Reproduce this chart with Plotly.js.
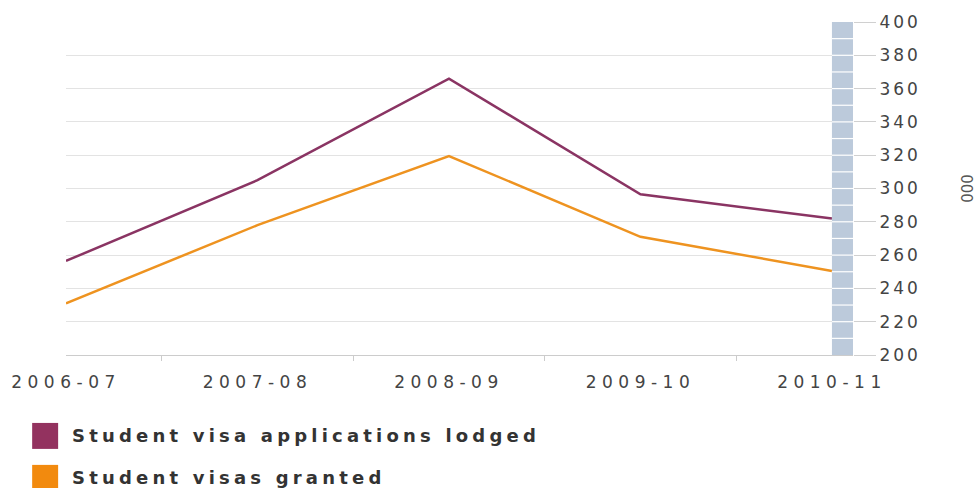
<!DOCTYPE html>
<html>
<head>
<meta charset="utf-8">
<script src="https://cdn.plot.ly/plotly-3.0.1.min.js"></script>
<style>
html,body{margin:0;padding:0;background:#fff;}
#chart{width:977px;height:488px;}
.xtick text{letter-spacing:5.5px;}
.ytick text{letter-spacing:3px;}
.annotation-text{letter-spacing:4.2px;}
</style>
</head>
<body>
<div id="chart"></div>
<script>
const categories = ["2006-07", "2007-08", "2008-09", "2009-10", "2010-11"];
const lodged = [256.5, 305, 366, 296.5, 282];
const granted = [231, 278, 319.5, 271, 250.5];
const seriesNames = ["Student visa applications lodged", "Student visas granted"];
const seriesColors = ["#8a3463", "#ee9320"];
const legendColors = ["#93325f", "#f28a0e"];
const yTicks = [200, 220, 240, 260, 280, 300, 320, 340, 360, 380, 400];
const yUnit = "000";

const traces = [
  {x: categories, y: lodged, type: "scatter", mode: "lines", name: seriesNames[0],
   line: {color: seriesColors[0], width: 2.5}, showlegend: false, hoverinfo: "x+y"},
  {x: categories, y: granted, type: "scatter", mode: "lines", name: seriesNames[1],
   line: {color: seriesColors[1], width: 2.5}, showlegend: false, hoverinfo: "x+y"}
];

const xEnd = 4.11;
const shapes = [
  {type: "rect", xref: "x", yref: "y", x0: categories.length - 1, x1: xEnd, y0: 200, y1: 400,
   fillcolor: "#bccadb", line: {width: 0}, layer: "above"}
];
for (let v = 210; v < 400; v += 10) {
  shapes.push({type: "line", xref: "x", yref: "y", x0: categories.length - 1, x1: xEnd, y0: v, y1: v,
    line: {color: "#ffffff", width: 1.2}, layer: "above"});
}
// legend swatches
const legendY = [[-0.204, -0.282], [-0.330, -0.405]];
const annotations = [];
seriesNames.forEach((n, i) => {
  shapes.push({type: "rect", xref: "paper", yref: "paper", x0: -0.043, x1: -0.010,
    y0: legendY[i][0], y1: legendY[i][1], fillcolor: legendColors[i], line: {width: 0}});
  annotations.push({xref: "paper", yref: "paper", x: 0.005, y: (legendY[i][0] + legendY[i][1]) / 2,
    xanchor: "left", yanchor: "middle", showarrow: false, text: "<b>" + n + "</b>",
    font: {family: "DejaVu Sans", size: 18, color: "#333333"}});
});

const layout = {
  width: 977, height: 488,
  margin: {l: 66, r: 124, t: 22, b: 133},
  paper_bgcolor: "#ffffff", plot_bgcolor: "#ffffff",
  showlegend: false,
  xaxis: {
    type: "category", range: [0, xEnd], tickson: "boundaries",
    ticks: "outside", ticklen: 5, tickcolor: "#cccccc", tickwidth: 1,
    showline: true, linecolor: "#cccccc", linewidth: 1,
    showgrid: false, zeroline: false,
    tickfont: {family: "DejaVu Sans", size: 17, color: "#444444"},
    ticklabelstandoff: 12
  },
  yaxis: {
    side: "right", range: [200, 400], tickvals: yTicks,
    ticks: "outside", ticklen: 22, tickcolor: "#d0d0d0", tickwidth: 1,
    showline: false, zeroline: false,
    showgrid: true, gridcolor: "#e3e3e3", gridwidth: 1,
    tickfont: {family: "DejaVu Sans", size: 17, color: "#444444"},
    title: {text: yUnit, standoff: 42, font: {family: "DejaVu Sans", size: 15, color: "#555555"}}
  },
  shapes: shapes,
  annotations: annotations
};

Plotly.newPlot("chart", traces, layout, {displayModeBar: false, staticPlot: true});
</script>
</body>
</html>
